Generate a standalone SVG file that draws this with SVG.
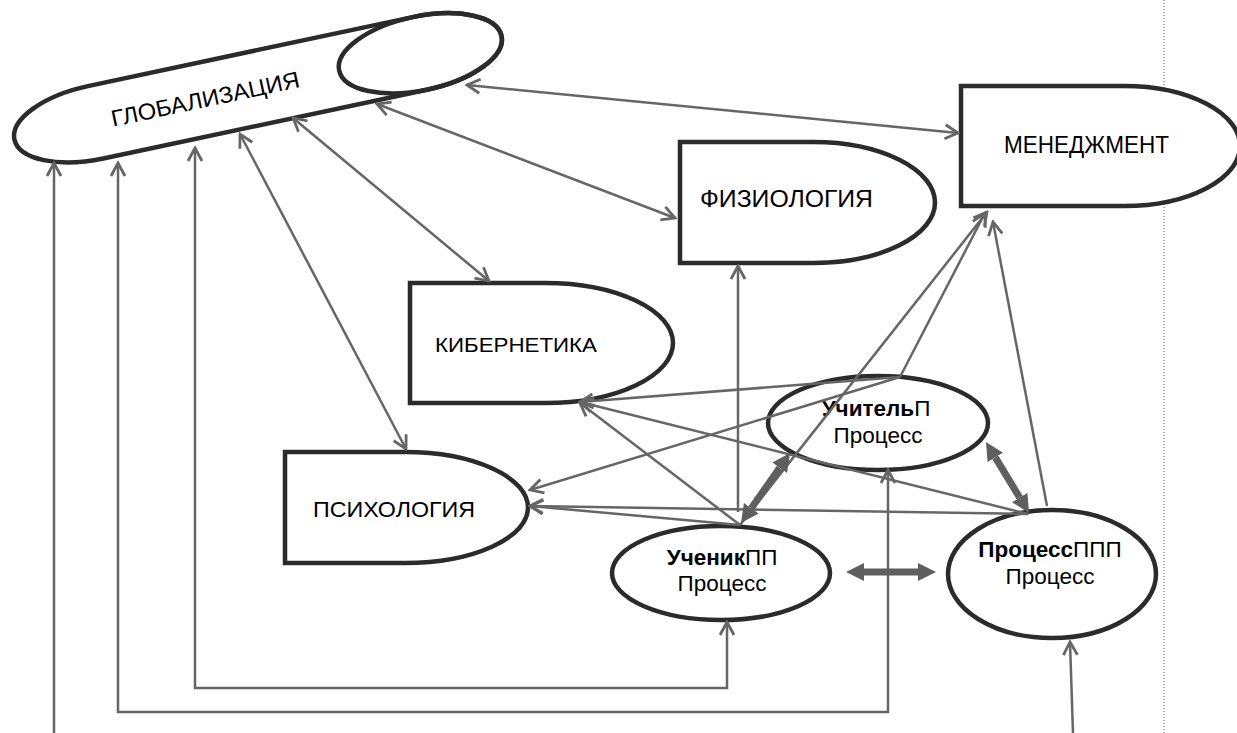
<svg xmlns="http://www.w3.org/2000/svg" width="1237" height="733" viewBox="0 0 1237 733">
<style>
.node{fill:#fff;stroke:#2b2b2b;stroke-width:4.5}
.ell{fill:none;stroke:#2b2b2b;stroke-width:4.5}
.lbl{font-family:"Liberation Sans",Arial,sans-serif;fill:#000;text-anchor:middle}
.ptxt{font-family:"Liberation Sans",Arial,sans-serif;font-size:22.5px;fill:#000;text-anchor:middle}
.b{font-weight:bold}
.c{fill:none;stroke:#666;stroke-width:2.5}
.thick{fill:none;stroke:#5f5f5f;stroke-width:7}
</style>
<defs>
<marker id="a" viewBox="-16 -10 18 20" refX="0" refY="0" markerWidth="18" markerHeight="20" markerUnits="userSpaceOnUse" orient="auto-start-reverse">
<path d="M-13,-7 L0,0 L-13,7" fill="none" stroke="#666" stroke-width="2.8"/>
</marker>
<marker id="t" viewBox="0 -10 20 20" refX="0" refY="0" markerWidth="20" markerHeight="20" markerUnits="userSpaceOnUse" orient="auto-start-reverse">
<path d="M0,-9 L18,0 L0,9 Z" fill="#5f5f5f"/>
</marker>
</defs>
<line x1="1164" y1="0" x2="1164" y2="733" stroke="#555" stroke-width="1" stroke-dasharray="1,2"/>
<g id="globalization" transform="rotate(-12 257 88)">
<path class="node" d="M92,51 L424,51 A83 37 0 0 1 424,125 L92,125 A83 37 0 0 1 92,51 Z"/>
<ellipse class="ell" cx="424" cy="88" rx="83" ry="37"/>
<text class="lbl" x="204" y="96" font-size="23" textLength="192" lengthAdjust="spacingAndGlyphs">ГЛОБАЛИЗАЦИЯ</text>
</g>
<g id="management">
<path class="node" d="M961,86 H1124 A116 60 0 0 1 1124,206 H961 Z"/>
<text class="lbl" x="1086.5" y="153" font-size="24" textLength="165" lengthAdjust="spacingAndGlyphs">МЕНЕДЖМЕНТ</text>
</g>
<g id="physiology">
<path class="node" d="M680,142 H813 A122 60.5 0 0 1 813,263 H680 Z"/>
<text class="lbl" x="786.5" y="207" font-size="23" textLength="173" lengthAdjust="spacingAndGlyphs">ФИЗИОЛОГИЯ</text>
</g>
<g id="cybernetics">
<path class="node" d="M410,283 H545 A128 60 0 0 1 545,403 H410 Z"/>
<text class="lbl" x="516" y="352" font-size="21" textLength="162" lengthAdjust="spacingAndGlyphs">КИБЕРНЕТИКА</text>
</g>
<g id="psychology">
<path class="node" d="M285,452 H405 A123 55.5 0 0 1 405,563 H285 Z"/>
<text class="lbl" x="394" y="517" font-size="22" textLength="162" lengthAdjust="spacingAndGlyphs">ПСИХОЛОГИЯ</text>
</g>
<g id="teacher">
<ellipse class="ell" cx="878" cy="423" rx="110" ry="47"/>
<text class="ptxt" x="876" y="416"><tspan class="b">Учитель</tspan>П</text>
<text class="ptxt" x="878" y="443">Процесс</text>
</g>
<g id="student">
<ellipse class="ell" cx="721" cy="573" rx="109" ry="47"/>
<text class="ptxt" x="722" y="565"><tspan class="b">Ученик</tspan>ПП</text>
<text class="ptxt" x="722" y="591">Процесс</text>
</g>
<g id="process">
<ellipse class="ell" cx="1052" cy="574" rx="104" ry="64"/>
<text class="ptxt" x="1050" y="557"><tspan class="b">Процесс</tspan>ППП</text>
<text class="ptxt" x="1050" y="584">Процесс</text>
</g>
<g id="connectors">
<line class="c" x1="467" y1="85" x2="958" y2="133" marker-start="url(#a)" marker-end="url(#a)"/>
<line class="c" x1="377" y1="104" x2="675" y2="218" marker-start="url(#a)" marker-end="url(#a)"/>
<line class="c" x1="293" y1="118" x2="489" y2="281" marker-start="url(#a)" marker-end="url(#a)"/>
<line class="c" x1="240" y1="134" x2="406" y2="449" marker-start="url(#a)" marker-end="url(#a)"/>
<line class="c" x1="54" y1="733" x2="54" y2="163" marker-end="url(#a)"/>
<path class="c" d="M888,470 V712 H118 V163" marker-start="url(#a)" marker-end="url(#a)"/>
<path class="c" d="M727,622 V688 H195 V148" marker-start="url(#a)" marker-end="url(#a)"/>
<line class="c" x1="1073" y1="733" x2="1070" y2="642" marker-end="url(#a)"/>
<line class="c" x1="738" y1="512" x2="738" y2="266" marker-end="url(#a)"/>
<line class="c" x1="740" y1="525" x2="580" y2="403" marker-end="url(#a)"/>
<line class="c" x1="740" y1="525" x2="530" y2="506" marker-end="url(#a)"/>
<line class="c" x1="740" y1="525" x2="987" y2="212" marker-end="url(#a)"/>
<line class="c" x1="900" y1="377" x2="580" y2="402" marker-end="url(#a)"/>
<line class="c" x1="900" y1="377" x2="530" y2="490" marker-end="url(#a)"/>
<line class="c" x1="900" y1="377" x2="985" y2="213" marker-end="url(#a)"/>
<line class="c" x1="1028" y1="514" x2="530" y2="506" marker-end="url(#a)"/>
<line class="c" x1="1028" y1="514" x2="580" y2="402" marker-end="url(#a)"/>
<line class="c" x1="1047" y1="506" x2="993" y2="222" marker-end="url(#a)"/>
<line class="thick" x1="751.3" y1="508.2" x2="779.7" y2="467.8" marker-start="url(#t)" marker-end="url(#t)"/>
<line class="thick" x1="995.3" y1="457.4" x2="1019.7" y2="497.6" marker-start="url(#t)" marker-end="url(#t)"/>
<line class="thick" x1="864" y1="572" x2="918" y2="572" marker-start="url(#t)" marker-end="url(#t)"/>
</g>
</svg>
